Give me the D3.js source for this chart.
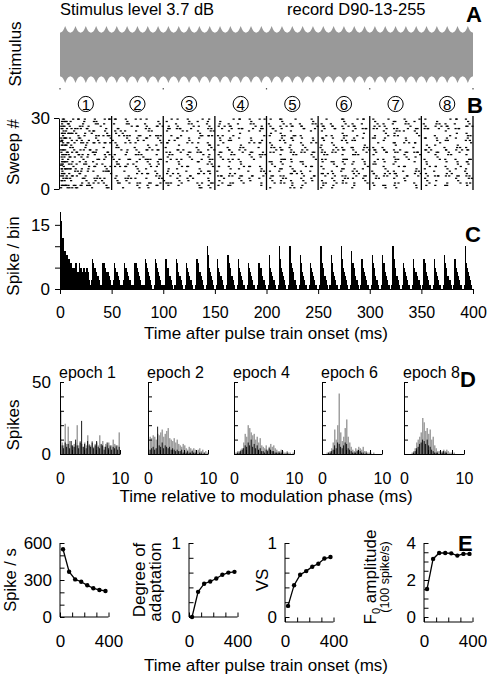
<!DOCTYPE html>
<html><head><meta charset="utf-8">
<script src="https://cdn.jsdelivr.net/npm/d3@7"></script>
<style>body{margin:0;background:#fff}svg{display:block}text{font-family:Arial,"Liberation Sans",Helvetica,sans-serif;fill:#000}</style>
</head><body><svg id="c" width="487" height="676"></svg>
<script>
// ---------- DATA ----------
const titleLeft = "Stimulus level 3.7 dB";
const titleRight = "record D90-13-255";
const epochNumbers = [1,2,3,4,5,6,7,8];
const epochDuration = 50;            // ms
const timeTicks = [0,50,100,150,200,250,300,350,400];
const stimPeriod = 10;               // ms
const stimCycles = 40;
const stimEnvelope = [0.765,0.78,0.80,0.84,0.91,1.0,0.91,0.84,0.80,0.78];
const sweepCount = 30;

// PSTH counts, 1-ms bins, grouped by 10-ms modulation cycle
const psthCounts = [
 [18,16,12,12,9,9,8,7,7,6],
 [6,5,4,5,4,6,4,4,6,5],
 [5,4,5,5,4,5,5,4,2,1],
 [2,7,6,5,5,4,3,2,1,1],
 [1,6,6,5,4,4,4,3,2,1],
 [1,2,6,5,4,4,3,2,1,1],
 [1,2,6,5,5,4,3,2,1,0],
 [1,1,6,6,5,4,3,2,1,1],
 [1,1,7,6,5,4,3,2,1,0],
 [0,1,7,6,5,4,3,2,1,1],
 [0,1,7,5,5,3,3,2,1,0],
 [1,1,7,6,4,3,3,2,1,0],
 [0,1,6,5,4,3,2,2,1,0],
 [0,1,7,6,4,4,3,2,1,0],
 [0,1,10,8,5,4,3,2,1,0],
 [0,1,7,5,4,3,3,2,1,0],
 [0,1,8,6,5,3,3,2,1,0],
 [0,1,7,5,4,3,2,1,1,0],
 [0,1,6,5,4,3,2,1,1,0],
 [0,1,6,5,5,3,2,2,1,0],
 [0,1,8,5,4,3,2,2,1,0],
 [0,1,10,7,5,4,3,2,1,0],
 [0,1,10,6,5,4,2,2,1,0],
 [0,1,8,6,4,3,2,1,1,0],
 [0,1,6,5,4,3,2,1,1,0],
 [0,1,10,6,5,3,3,2,1,0],
 [0,1,8,6,4,3,2,1,1,0],
 [0,1,10,7,5,4,3,2,1,0],
 [0,1,9,6,5,3,2,2,1,0],
 [0,1,7,5,4,3,2,1,1,0],
 [0,1,8,6,5,3,2,2,1,0],
 [0,1,8,6,4,3,2,1,1,0],
 [0,1,10,7,5,3,3,2,1,0],
 [0,1,6,5,4,3,2,1,1,0],
 [0,1,7,5,4,3,2,2,1,0],
 [0,1,7,6,4,3,2,1,1,0],
 [0,1,7,5,4,3,2,1,1,0],
 [0,1,8,6,5,3,2,2,1,0],
 [0,1,7,5,4,3,2,1,1,0],
 [0,1,10,6,5,4,3,2,1,0]
];

// Period histograms (0.25-ms bins over 0-10 ms)
const periodEpochs = ["epoch 1","epoch 2","epoch 4","epoch 6","epoch 8"];
const periodGray = [
 [30,8,6,21,7,19,9,6,5,7,8,20,6,9,7,5,8,6,13,7,6,9,5,7,8,6,13,6,9,5,7,6,8,5,6,10,7,5,6,15],
 [3,12,11,13,12,10,14,13,15,17,12,14,16,18,11,10,9,11,8,10,7,6,5,7,6,4,3,5,4,3,4,3,2,3,4,2,3,1,2,1],
 [1,1,2,2,3,4,8,14,12,20,18,15,13,14,10,12,8,11,6,5,4,6,3,5,7,5,6,4,3,2,2,3,2,1,1,2,1,1,0,1],
 [0,0,0,1,1,2,4,8,17,10,20,42,15,9,12,18,24,12,8,5,3,2,4,3,5,4,3,5,2,2,1,1,1,0,1,0,0,0,0,0],
 [0,0,0,0,0,1,2,4,8,10,12,15,25,22,16,18,14,17,10,12,6,4,2,2,1,2,3,2,3,2,1,1,0,1,0,0,0,0,0,0]
];
const periodBlack = [
 [3,6,4,8,5,7,4,9,6,5,10,6,4,8,23,5,7,4,9,6,5,8,4,6,9,5,4,7,6,3,5,8,4,6,3,5,4,6,3,5],
 [1,3,4,5,3,4,19,6,5,8,4,6,5,4,5,3,4,3,2,3,2,2,3,1,2,1,2,1,1,2,1,1,1,0,1,1,0,1,0,0],
 [0,0,1,1,2,3,4,6,5,8,6,10,5,7,4,6,3,4,2,2,1,3,2,4,3,2,2,1,1,1,1,1,1,0,0,1,0,0,0,0],
 [0,0,0,0,1,1,2,3,6,4,8,7,5,4,6,8,7,4,3,2,1,1,1,2,1,2,1,1,0,1,0,0,0,0,0,0,0,0,0,0],
 [0,0,0,0,0,0,1,2,4,5,7,8,10,9,7,10,6,5,3,2,1,1,1,0,1,1,2,1,1,0,0,0,0,0,0,0,0,0,0,0]
];

// Panel E
const epochCentres = [25,75,125,175,225,275,325,375];
const spikeRate   = [549,367,305,286,257,233,219,211];
const adaptation  = [0.0,0.34,0.45,0.48,0.52,0.57,0.60,0.61];
const vectorStrength = [0.15,0.43,0.57,0.62,0.68,0.72,0.79,0.81];
const f0Amplitude = [1.51,3.14,3.46,3.46,3.44,3.32,3.41,3.41];

// ---------- DRAWING ----------
const FONT = 'Arial, "Liberation Sans", Helvetica, sans-serif';
const TITLE = 17, TICK = 16;
const svg = d3.select("#c");

function styleAxis(g, size) {
  g.attr("font-family", FONT).attr("font-size", size);
  g.selectAll("line,path").attr("stroke", "#000").attr("stroke-width", 1);
  g.selectAll("text").attr("fill", "#000");
}
function text(x, y, s, size, opts = {}) {
  const t = svg.append("text").attr("x", x).attr("y", y).attr("font-size", size).text(s);
  if (opts.anchor) t.attr("text-anchor", opts.anchor);
  if (opts.bold) t.attr("font-weight", "bold");
  return t;
}
function vlabel(x, y, s, size) {
  return svg.append("text").attr("transform", `translate(${x},${y}) rotate(-90)`)
    .attr("text-anchor", "middle").attr("font-size", size).text(s);
}

const xT = d3.scaleLinear([0, 400], [60, 473]);

// ---- Panel A ----
text(60, 14.5, titleLeft, 16.5);
text(287, 14.5, titleRight, 16.5);
text(466, 22, "A", 22, {bold: true});
vlabel(21, 54, "Stimulus", TITLE);
const yStim = d3.scaleLinear([-1, 1], [83, 26]);
const stimPts = [];
for (let c = 0; c < stimCycles; c++)
  stimEnvelope.forEach((v, k) => stimPts.push({t: c * stimPeriod + k * stimPeriod / stimEnvelope.length, v}));
stimPts.push({t: stimCycles * stimPeriod, v: stimEnvelope[0]});
svg.append("path").datum(stimPts)
  .attr("d", d3.area().x(d => xT(d.t)).y0(d => yStim(-d.v)).y1(d => yStim(d.v)))
  .attr("fill", "#999");
svg.append("g").selectAll("rect").data([0, 100, 200, 300, 400]).join("rect")
  .attr("x", d => xT(d) - 0.6).attr("y", 88).attr("width", 1.2).attr("height", 1.5).attr("fill", "#555");

// ---- Panel B: raster ----
text(467, 113, "B", 22, {bold: true});
const epochScale = d3.scaleLinear([0, epochNumbers.length], [0, epochNumbers.length * epochDuration]);
const circG = svg.append("g");
epochNumbers.forEach((n, i) => {
  const cx = xT(epochScale(i) + epochDuration / 2);
  circG.append("circle").attr("cx", cx).attr("cy", 104).attr("r", 7.6)
    .attr("fill", "none").attr("stroke", "#000").attr("stroke-width", 1);
  circG.append("text").attr("x", cx).attr("y", 109.5).attr("text-anchor", "middle")
    .attr("font-size", 15).text(n);
});
const ySweep = d3.scaleLinear([0, sweepCount], [189, 118]);
const psthFlat = psthCounts.flat();
const spikes = [];
psthFlat.forEach((n, i) => {
  for (let k = 0; k < n; k++) {
    const sweep = (Math.floor(k * sweepCount / n) + (i * 7) % sweepCount) % sweepCount;
    const t = i + ((k * 7 + i * 3) % 10) / 10;
    spikes.push({t, sweep});
  }
});
svg.append("g").selectAll("rect").data(spikes).join("rect")
  .attr("x", d => xT(d.t)).attr("y", d => ySweep(d.sweep + 1) + 0.5)
  .attr("width", 2.2).attr("height", 1.25).attr("fill", "#000");
svg.append("g").selectAll("line").data(d3.range(1, epochNumbers.length + 1)).join("line")
  .attr("x1", d => xT(epochScale(d))).attr("x2", d => xT(epochScale(d)))
  .attr("y1", 116).attr("y2", 190).attr("stroke", "#000").attr("stroke-width", 1.3);
const gBy = svg.append("g").attr("transform", "translate(59,0)")
  .call(d3.axisLeft(ySweep).tickValues([0, 30]).tickSize(5).tickPadding(4).tickSizeOuter(0));
styleAxis(gBy, TICK + 1);
svg.append("g").selectAll("line").data([10, 20]).join("line")
  .attr("x1", 59).attr("x2", 63).attr("y1", d => ySweep(d)).attr("y2", d => ySweep(d)).attr("stroke", "#000");
vlabel(19, 152, "Sweep #", TITLE);

// ---- Panel C: PSTH ----
text(465, 242, "C", 22, {bold: true});
const yC = d3.scaleLinear([0, 18], [289, 212]);
svg.append("g").attr("shape-rendering", "crispEdges").selectAll("rect").data(psthFlat).join("rect")
  .attr("x", (d, i) => xT(i)).attr("width", (d, i) => xT(i + 1) - xT(i) + 0.3)
  .attr("y", d => yC(d)).attr("height", d => yC(0) - yC(d)).attr("fill", "#000");
const gCy = svg.append("g").attr("transform", "translate(60,0)")
  .call(d3.axisLeft(yC).tickValues([0, 5, 10, 15]).tickFormat(d => (d === 0 || d === 15) ? d : "")
    .tickSize(5).tickPadding(5).tickSizeOuter(0));
styleAxis(gCy, TICK + 1);
const gCx = svg.append("g").attr("transform", "translate(0,289)")
  .call(d3.axisBottom(xT).tickValues(timeTicks).tickSize(5).tickPadding(12.5).tickSizeOuter(0));
styleAxis(gCx, TICK);
vlabel(19, 256, "Spike / bin", TITLE);
text(266, 339, "Time after pulse train onset (ms)", TITLE, {anchor: "middle"});

// ---- Panel D: period histograms ----
text(460, 387, "D", 22, {bold: true});
const dPanelLeft = [60, 148, 234, 322, 404];
const dWidth = 60;
const yD = d3.scaleLinear([0, 50], [454, 382]);
const binW = 10 / periodGray[0].length;
periodEpochs.forEach((name, j) => {
  const x0 = dPanelLeft[j];
  const xD = d3.scaleLinear([0, 10], [x0, x0 + dWidth]);
  const g = svg.append("g");
  g.selectAll("rect.g").data(periodGray[j]).join("rect").attr("class", "g")
    .attr("x", (d, i) => xD(i * binW)).attr("width", xD(binW) - xD(0))
    .attr("y", d => yD(d)).attr("height", d => yD(0) - yD(d)).attr("fill", "#a0a0a0");
  g.selectAll("rect.b").data(periodBlack[j]).join("rect").attr("class", "b")
    .attr("x", (d, i) => xD(i * binW) + 0.2).attr("width", (xD(binW) - xD(0)) * 0.6)
    .attr("y", d => yD(d)).attr("height", d => yD(0) - yD(d)).attr("fill", "#000");
  const ga = svg.append("g").attr("transform", `translate(${x0},0)`)
    .call(d3.axisLeft(yD).tickValues([0, 10, 20, 30, 40, 50])
      .tickFormat(d => (j === 0 && (d === 0 || d === 50)) ? d : "")
      .tickSize(-4).tickPadding(9).tickSizeOuter(0));
  styleAxis(ga, TICK + 1);
  const gx = svg.append("g").attr("transform", "translate(0,454)")
    .call(d3.axisBottom(xD).tickValues([0, 2, 4, 6, 8, 10])
      .tickFormat(d => (d === 0 || d === 10) ? d : "")
      .tickSize(-4).tickPadding(18.5).tickSizeOuter(0));
  styleAxis(gx, TICK);
  text(x0 - 1, 378, name, 16);
});
vlabel(19, 425, "Spikes", TITLE);
text(266, 502, "Time relative to modulation phase (ms)", TITLE, {anchor: "middle"});

// ---- Panel E ----
text(458, 551, "E", 22, {bold: true});
function linePlot(opts) {
  const xs = d3.scaleLinear([0, 400], [opts.left, opts.left + 48.5]);
  const ys = d3.scaleLinear([0, opts.max], [617, 543]);
  const bottom = opts.axisY;
  const g = svg.append("g");
  g.append("line").attr("x1", opts.left).attr("x2", opts.left).attr("y1", 543).attr("y2", bottom).attr("stroke", "#000");
  g.append("line").attr("x1", opts.left).attr("x2", xs(400)).attr("y1", bottom).attr("y2", bottom).attr("stroke", "#000");
  const ya = svg.append("g").attr("transform", `translate(${opts.left},0)`)
    .call(d3.axisLeft(ys).tickValues(opts.ticks).tickFormat(d => opts.labels.includes(d) ? d : "")
      .tickSize(-4.5).tickPadding(8).tickSizeOuter(0));
  ya.select(".domain").remove();
  styleAxis(ya, TICK + 1);
  const xa = svg.append("g").attr("transform", `translate(0,${bottom})`)
    .call(d3.axisBottom(xs).tickValues([0, 100, 200, 300, 400]).tickFormat(d => (d === 0 || d === 400) ? d : "")
      .tickSize(-4.5).tickPadding(635 - bottom).tickSizeOuter(0));
  xa.select(".domain").remove();
  styleAxis(xa, TICK + 1);
  const pts = epochCentres.map((t, i) => ({t, v: opts.values[i]}));
  svg.append("path").datum(pts).attr("d", d3.line().x(d => xs(d.t)).y(d => ys(d.v)))
    .attr("fill", "none").attr("stroke", "#000").attr("stroke-width", 1.3);
  svg.append("g").selectAll("circle").data(pts).join("circle")
    .attr("cx", d => xs(d.t)).attr("cy", d => ys(d.v)).attr("r", 2.2).attr("fill", "#000");
}
linePlot({left: 60, max: 600, axisY: 617, values: spikeRate, ticks: [0,100,200,300,400,500,600], labels: [0,300,600]});
linePlot({left: 189, max: 1, axisY: 617, values: adaptation, ticks: [0,0.2,0.4,0.6,0.8,1], labels: [0,1]});
linePlot({left: 285, max: 1, axisY: 622, values: vectorStrength, ticks: [0,0.2,0.4,0.6,0.8,1], labels: [0,1]});
linePlot({left: 424, max: 4, axisY: 622, values: f0Amplitude, ticks: [0,0.5,1,1.5,2,2.5,3,3.5,4], labels: [0,2,4]});

vlabel(15.5, 580, "Spike / s", 16.5);
vlabel(145, 580, "Degree of", TITLE);
vlabel(161, 582, "adaptation", TITLE);
vlabel(268, 580, "VS", TITLE);
const f0 = svg.append("text").attr("transform", "translate(376,577) rotate(-90)")
  .attr("text-anchor", "middle").attr("font-size", TITLE);
f0.append("tspan").text("F");
f0.append("tspan").attr("font-size", 11).attr("dy", 4).text("0");
f0.append("tspan").attr("dy", -4).text(" amplitude");
vlabel(389, 577, "(100 spike/s)", 12.5);
text(266, 671, "Time after pulse train onset (ms)", TITLE, {anchor: "middle"});
</script>
</body></html>
